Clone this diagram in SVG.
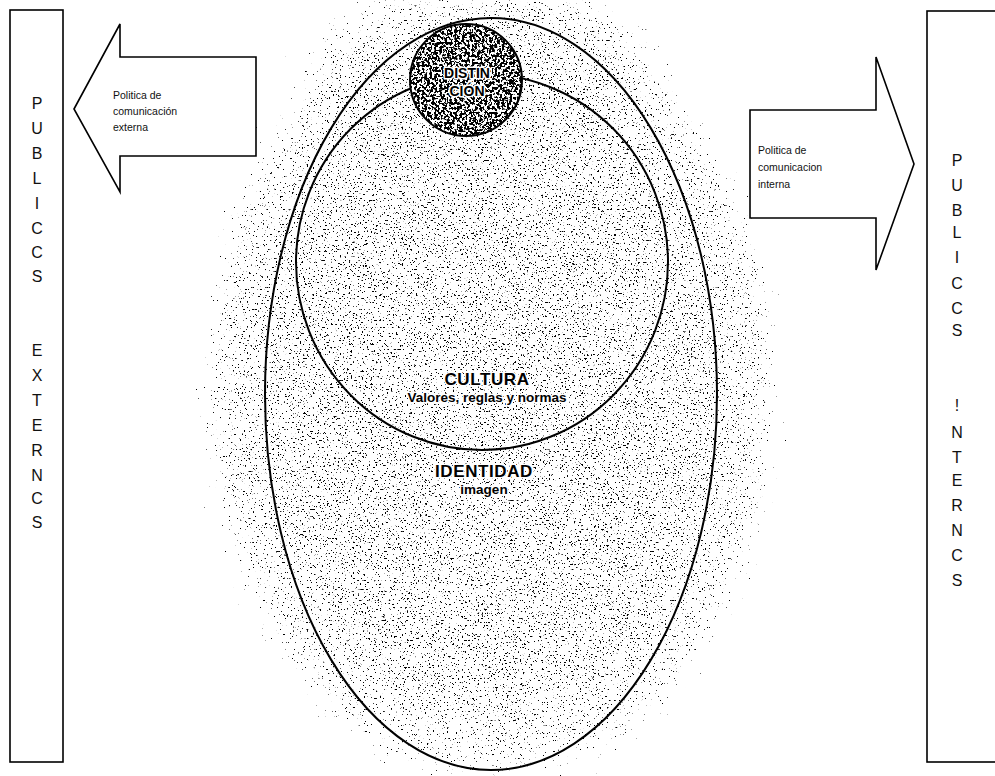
<svg xmlns="http://www.w3.org/2000/svg" width="995" height="776" viewBox="0 0 995 776">
<style>
.line{fill:none;stroke:#000;stroke-width:2}
.box{fill:#fff;stroke:#000;stroke-width:1.6}
.arrow{fill:#fff;stroke:#000;stroke-width:1.6;stroke-linejoin:miter}
.vert{font-family:"Liberation Sans",Arial,sans-serif;font-size:16px;fill:#111;text-anchor:middle}
.small{font-family:"Liberation Sans",Arial,sans-serif;font-size:10.5px;fill:#111}
.big{font-family:"Liberation Sans",Arial,sans-serif;font-weight:bold;font-size:17px;fill:#000;text-anchor:middle;letter-spacing:0.6px;stroke:#fff;stroke-width:3px;paint-order:stroke}
.sub{font-family:"Liberation Sans",Arial,sans-serif;font-weight:bold;font-size:13.5px;fill:#000;text-anchor:middle;stroke:#fff;stroke-width:3px;paint-order:stroke}
.dist{font-family:"Liberation Sans",Arial,sans-serif;font-weight:bold;font-size:14px;fill:#000;text-anchor:middle;stroke:#fff;stroke-width:3px;paint-order:stroke;stroke-linejoin:round}
</style>
<defs>
<filter id="speck" filterUnits="userSpaceOnUse" x="0" y="0" width="995" height="776">
<feTurbulence type="fractalNoise" baseFrequency="0.55" numOctaves="2" seed="7" result="t"/>
<feColorMatrix in="t" type="matrix" values="0 0 0 0 0  0 0 0 0 0  0 0 0 0 0  1 0 0 0 0" result="n"/>
<feComposite in="n" in2="SourceGraphic" operator="arithmetic" k1="0" k2="-20" k3="7.4" k4="0" result="c"/>
<feColorMatrix in="c" type="matrix" values="0 0 0 0 0  0 0 0 0 0  0 0 0 0 0  0 0 0 1 0"/>
</filter>
<filter id="dense" filterUnits="userSpaceOnUse" x="380" y="0" width="230" height="200">
<feTurbulence type="fractalNoise" baseFrequency="0.4" numOctaves="2" seed="3" result="t"/>
<feColorMatrix in="t" type="matrix" values="0 0 0 0 0  0 0 0 0 0  0 0 0 0 0  -22 0 0 0 11.6" result="n"/>
<feComposite in="n" in2="SourceGraphic" operator="in"/>
</filter>
<radialGradient id="blob" cx="0.5" cy="0.5" r="0.5">
<stop offset="0" stop-color="#000" stop-opacity="0.97"/>
<stop offset="0.65" stop-color="#000" stop-opacity="0.95"/>
<stop offset="0.82" stop-color="#000" stop-opacity="0.85"/>
<stop offset="1" stop-color="#000" stop-opacity="0"/>
</radialGradient>
<radialGradient id="topblob" cx="0.5" cy="0.5" r="0.5">
<stop offset="0" stop-color="#000" stop-opacity="1"/>
<stop offset="0.6" stop-color="#000" stop-opacity="0.95"/>
<stop offset="1" stop-color="#000" stop-opacity="0"/>
</radialGradient>
</defs>
<rect width="995" height="776" fill="#fff"/>
<g id="texture" filter="url(#speck)">
<ellipse cx="491" cy="390" rx="330" ry="450" fill="url(#blob)"/>
<ellipse cx="470" cy="50" rx="230" ry="120" fill="url(#topblob)" opacity="0.6"/>
</g>
<g id="publicos-externos">
<rect class="box" x="10" y="10" width="53" height="752"/>
<text class="vert" x="37"><tspan x="37" y="109">P</tspan><tspan x="37" y="134">U</tspan><tspan x="37" y="159">B</tspan><tspan x="37" y="184">L</tspan><tspan x="37" y="209">I</tspan><tspan x="37" y="234">C</tspan><tspan x="37" y="258">C</tspan><tspan x="37" y="282">S</tspan><tspan x="37" y="356">E</tspan><tspan x="37" y="381">X</tspan><tspan x="37" y="406">T</tspan><tspan x="37" y="431">E</tspan><tspan x="37" y="456">R</tspan><tspan x="37" y="481">N</tspan><tspan x="37" y="504">C</tspan><tspan x="37" y="528">S</tspan></text>
</g>
<g id="publicos-internos">
<rect class="box" x="927" y="11" width="70" height="751"/>
<text class="vert" x="957"><tspan x="957" y="166">P</tspan><tspan x="957" y="191">U</tspan><tspan x="957" y="216">B</tspan><tspan x="957" y="238">L</tspan><tspan x="957" y="263">I</tspan><tspan x="957" y="289">C</tspan><tspan x="957" y="314">C</tspan><tspan x="957" y="336">S</tspan><tspan x="957" y="411">!</tspan><tspan x="957" y="438">N</tspan><tspan x="957" y="463">T</tspan><tspan x="957" y="486">E</tspan><tspan x="957" y="511">R</tspan><tspan x="957" y="536">N</tspan><tspan x="957" y="561">C</tspan><tspan x="957" y="586">S</tspan></text>
</g>
<g id="connectors">
<g id="flecha-externa">
<polygon class="arrow" points="74,109 120,24 120,57 256,57 256,156 120,156 120,192"/>
<text class="small"><tspan x="113" y="99">Politica de</tspan><tspan x="113" y="115">comunicación</tspan><tspan x="113" y="131">externa</tspan></text>
</g>
<g id="flecha-interna">
<polygon class="arrow" points="750,110 876,110 876,57 914,164 876,270 876,218 750,218"/>
<text class="small"><tspan x="758" y="154">Politica de</tspan><tspan x="758" y="171">comunicacion</tspan><tspan x="758" y="188">interna</tspan></text>
</g>
</g>
<g id="identidad">
<ellipse class="line" cx="491" cy="394" rx="226" ry="376"/>
<text class="big" x="484" y="477">IDENTIDAD</text>
<text class="sub" x="484" y="494">imagen</text>
</g>
<g id="cultura">
<ellipse class="line" cx="482" cy="262" rx="186" ry="188"/>
<text class="big" x="487" y="385">CULTURA</text>
<text class="sub" x="487" y="402">Valores, reglas y normas</text>
</g>
<g id="distincion">
<circle cx="466" cy="80" r="56" fill="#fff"/>
<circle cx="466" cy="80" r="56" fill="#000" filter="url(#dense)"/>
<circle class="line" cx="466" cy="80" r="56"/>
<text class="dist" x="467" y="78">DISTIN</text>
<text class="dist" x="467" y="96">CIÓN</text>
</g>
</svg>
